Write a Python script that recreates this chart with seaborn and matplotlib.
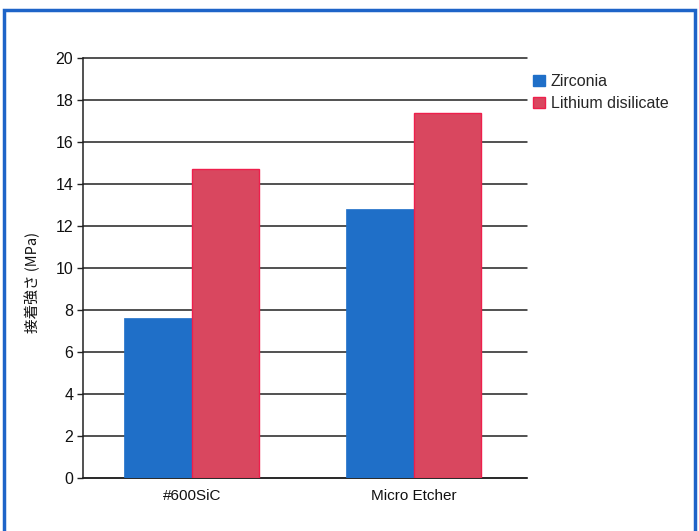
import matplotlib
matplotlib.use("Agg")
import matplotlib.pyplot as plt
import matplotlib.patches as mpatches
import seaborn as sns
import pandas as pd

# Bond strength by surface treatment and material
treatments = ["#600SiC", "Micro Etcher"]
materials = ["Zirconia", "Lithium disilicate"]
zirconia = [7.6, 12.8]
lithium_disilicate = [14.7, 17.4]
yticks = [0, 2, 4, 6, 8, 10, 12, 14, 16, 18, 20]

df = pd.DataFrame({
    "treatment": treatments * 2,
    "material": [materials[0]] * 2 + [materials[1]] * 2,
    "value": zirconia + lithium_disilicate,
})

sns.set_theme(style="white")
plt.rcParams["font.family"] = ["Liberation Sans", "Noto Sans CJK JP", "DejaVu Sans"]

blue = "#1f6fc8"
red = "#d9475f"
red_edge = "#ee1f4c"

fig = plt.figure(figsize=(6.99, 5.31), dpi=100)
W, H = 699, 531
ax = fig.add_axes([83 / W, 1 - 478 / H, (527 - 83) / W, (478 - 58) / H])

sns.barplot(data=df, x="treatment", y="value", hue="material", order=treatments,
            hue_order=materials, palette=[blue, red], width=0.61, gap=0,
            saturation=1, errorbar=None, legend=False, ax=ax, zorder=3)
red_rgba = matplotlib.colors.to_rgba(red)
for patch in ax.patches:
    fc = patch.get_facecolor()
    if abs(fc[0] - red_rgba[0]) < 0.02:
        patch.set_edgecolor(red_edge)
        patch.set_linewidth(1.0)
    else:
        patch.set_edgecolor(blue)
        patch.set_linewidth(0.5)

ax.set_xlim(-0.49, 1.51)
ax.set_ylim(0, 20)
ax.set_yticks(yticks)
ax.set_yticklabels([str(t) for t in yticks], fontsize=11.5, color="#111111")
ax.yaxis.grid(True, color="#222222", linewidth=1.1, zorder=1)
ax.set_axisbelow(True)
for line in ax.get_ygridlines():
    line.set_clip_on(False)
ax.tick_params(axis="y", length=4, width=1, color="#222222", pad=3, left=True)
ax.tick_params(axis="x", length=0, pad=8, labelsize=11, labelcolor="#111111")
for side in ["top", "right"]:
    ax.spines[side].set_visible(False)
for side in ["left", "bottom"]:
    ax.spines[side].set_color("#222222")
    ax.spines[side].set_linewidth(1.1)

ax.set_xlabel("")
ax.set_ylabel("接着強さ (MPa)", fontsize=10.5,
              family=["Noto Sans CJK JP", "DejaVu Sans"], color="#111111")
ax.yaxis.set_label_coords(-43 / 444, 0.465)

handles = [mpatches.Patch(facecolor=blue, edgecolor=blue, label=materials[0]),
           mpatches.Patch(facecolor=red, edgecolor=red_edge, label=materials[1])]
fig.legend(handles=handles, loc="upper left", bbox_to_anchor=(527 / W, 1 - 68 / H),
           frameon=False, fontsize=11.5, handlelength=0.7, handleheight=0.7,
           handletextpad=0.4, labelspacing=0.4, borderaxespad=0)

# Blue frame around the whole figure
frame = mpatches.Rectangle((3.5 / W, -0.05), (695 - 3.5) / W, 1 - 9.5 / H + 0.05,
                           transform=fig.transFigure, fill=False,
                           edgecolor="#1e64c8", linewidth=2.5, zorder=10)
fig.patches.append(frame)

fig.savefig("out.png", dpi=100, facecolor="white")
